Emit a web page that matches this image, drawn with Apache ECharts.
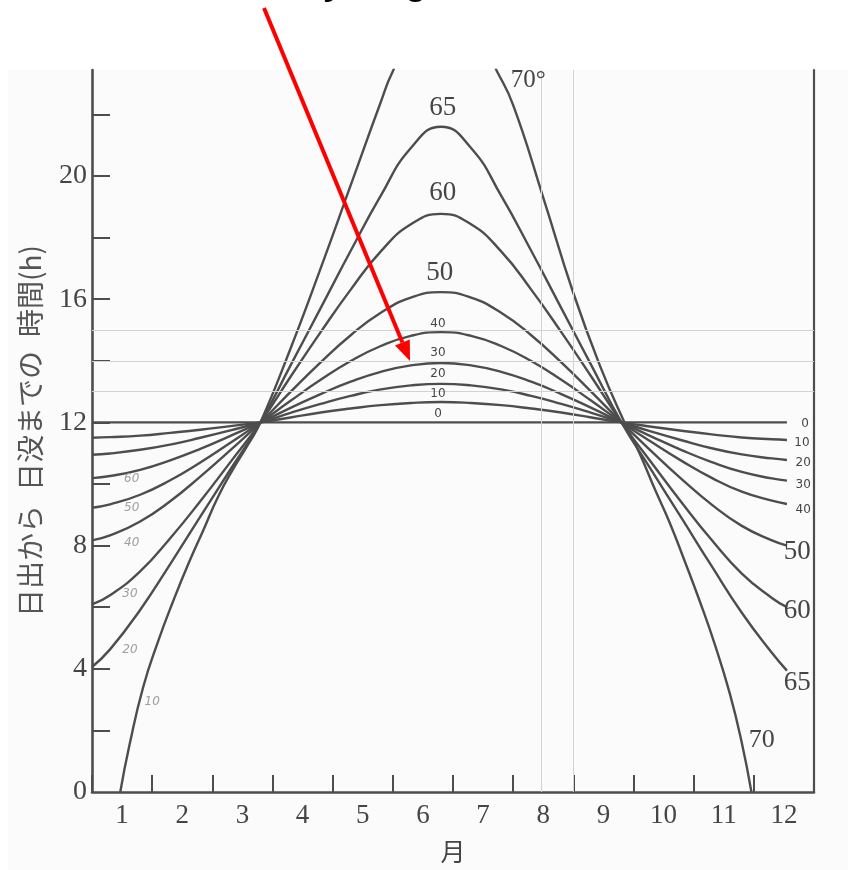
<!DOCTYPE html>
<html>
<head>
<meta charset="utf-8">
<style>
  html, body { margin: 0; padding: 0; background: #fff; }
  #chart { width: 848px; height: 870px; }
</style>
</head>
<body>
<div id="chart"></div>
<script src="https://cdn.jsdelivr.net/npm/echarts@6/dist/echarts.min.js"></script>
<script>
// --- data (month 0 = 1 Jan, 12 = 31 Dec) ---
const MONTH_LABELS = ['1', '2', '3', '4', '5', '6', '7', '8', '9', '10', '11', '12'];
const HOUR_TICKS = [2, 4, 6, 8, 10, 12, 14, 16, 18, 20, 22];
const HOUR_LABELS = [0, 4, 8, 12, 16, 20];

const MONTHS = [0, 0.3, 0.8, 1.3, 1.8, 2.3, 2.8, 3.3, 3.8, 4.3, 4.8, 5.3, 5.8,
  6.3, 6.8, 7.3, 7.8, 8.3, 8.8, 9.3, 9.8, 10.3, 10.8, 11.3, 11.55];

const LAT_0 = [12, 12, 12, 12, 12, 12, 12, 12, 12, 12, 12, 12, 12,
  12, 12, 12, 12, 12, 12, 12, 12, 12, 12, 12, 12];
const LAT_10 = [11.50, 11.52, 11.57, 11.66, 11.76, 11.88, 12.00, 12.16, 12.32, 12.45, 12.56, 12.63, 12.66,
  12.63, 12.56, 12.45, 12.32, 12.16, 12.00, 11.86, 11.73, 11.61, 11.51, 11.45, 11.43];
const LAT_20 = [10.95, 10.99, 11.11, 11.28, 11.50, 11.74, 12.00, 12.31, 12.60, 12.86, 13.07, 13.20, 13.25,
  13.20, 13.07, 12.86, 12.60, 12.31, 12.00, 11.70, 11.42, 11.16, 10.96, 10.83, 10.78];
const LAT_30 = [10.19, 10.26, 10.46, 10.77, 11.14, 11.56, 12.00, 12.47, 12.92, 13.32, 13.64, 13.85, 13.93,
  13.85, 13.64, 13.32, 12.92, 12.47, 12.00, 11.54, 11.10, 10.71, 10.39, 10.18, 10.11];
const LAT_40 = [9.23, 9.34, 9.65, 10.12, 10.70, 11.34, 12.00, 12.70, 13.38, 13.99, 14.48, 14.81, 14.93,
  14.81, 14.48, 13.99, 13.38, 12.70, 12.00, 11.36, 10.75, 10.20, 9.75, 9.46, 9.35];
const LAT_50 = [8.17, 8.33, 8.78, 9.44, 10.24, 11.10, 12.00, 12.99, 13.95, 14.83, 15.56, 16.05, 16.23,
  16.05, 15.56, 14.83, 13.95, 12.99, 12.00, 11.06, 10.16, 9.33, 8.64, 8.17, 8.00];
const LAT_60 = [6.09, 6.39, 7.16, 8.24, 9.44, 10.71, 12.00, 13.48, 14.93, 16.31, 17.55, 18.43, 18.77,
  18.43, 17.55, 16.31, 14.93, 13.48, 12.00, 10.69, 9.40, 8.18, 7.09, 6.30, 6.00];
const LAT_65 = [4.06, 4.63, 5.91, 7.40, 8.94, 10.47, 12.00, 13.85, 15.71, 17.57, 19.36, 20.91, 21.60,
  20.91, 19.36, 17.57, 15.71, 13.85, 12.00, 10.44, 8.89, 7.33, 5.82, 4.52, 3.94];

// 70° has polar night / polar day, so it keeps its own month list
const LAT70_MONTHS = [0.47, 0.62, 0.85, 1.1, 1.35, 1.6, 1.85, 2.1, 2.35, 2.6,
  2.8, 3.3, 3.8, 4.3, 4.8, 5.0, 5.2, 6.55, 6.73, 7.0, 7.5, 8.0, 8.45, 8.85,
  9.1, 9.35, 9.6, 9.85, 10.1, 10.35, 10.6, 10.8, 10.96];
const LAT70_HOURS = [0, 1.5, 3.4, 4.9, 6.2, 7.4, 8.5, 9.6, 10.5, 11.3,
  12.0, 14.4, 17.0, 19.7, 22.4, 23.4, 24, 24, 23.4, 22.3, 19.3, 16.2, 13.8, 12.0,
  11.0, 9.85, 8.75, 7.5, 6.2, 4.8, 3.2, 1.6, 0];

// --- layout / styling ---
const INK = '#4d4d4d';
const LABEL_INK = '#454545';
const SERIF = '"Liberation Serif", "DejaVu Serif", serif';
const SANS = '"DejaVu Sans", sans-serif';
const CJK = '"Noto Sans CJK JP", sans-serif';
const Y_MAX = 23.44;

// curve labels, placed in chart units [month, hours]
const CURVE_LABELS = [
  ['65', 5.83, 22.22, 27, SERIF], ['60', 5.83, 19.44, 27, SERIF], ['50', 5.78, 16.84, 27, SERIF],
  ['40', 5.75, 15.21, 12, SANS], ['30', 5.75, 14.27, 12, SANS], ['20', 5.75, 13.56, 12, SANS],
  ['10', 5.75, 12.94, 12, SANS], ['0', 5.75, 12.29, 12, SANS],
  ['70°', 7.25, 23.1, 25, SERIF],
  ['0', 11.85, 11.94, 12, SANS], ['10', 11.8, 11.32, 12, SANS], ['20', 11.82, 10.67, 12, SANS],
  ['30', 11.82, 9.96, 12, SANS], ['40', 11.82, 9.15, 12, SANS],
  ['50', 11.72, 7.78, 27, SERIF], ['60', 11.72, 5.89, 27, SERIF], ['65', 11.72, 3.55, 27, SERIF],
  ['70', 11.13, 1.67, 26, SERIF]
];
// faint pencil notes on the left
const PENCIL_LABELS = [
  ['60', 0.66, 10.18], ['50', 0.66, 9.24], ['40', 0.66, 8.1],
  ['30', 0.63, 6.44], ['20', 0.63, 4.6], ['10', 1.0, 2.91]
];

const chart = echarts.init(document.getElementById('chart'));

function curve(name, months, hours, extra) {
  return Object.assign({
    name: name,
    type: 'line',
    xAxisIndex: 1,
    yAxisIndex: 0,
    data: months.map((m, i) => [m, hours[i]]),
    showSymbol: false,
    symbol: 'none',
    smooth: 0.5,
    silent: true,
    z: 3,
    lineStyle: { color: INK, width: 2.4 }
  }, extra || {});
}

const markLabels = CURVE_LABELS.map(([text, m, h, size, font]) => ({
  name: text,
  coord: [m, h],
  label: { formatter: text, fontSize: size, fontFamily: font, color: LABEL_INK }
})).concat(PENCIL_LABELS.map(([text, m, h]) => ({
  name: text,
  coord: [m, h],
  label: { formatter: text, fontSize: 12, fontFamily: SANS, fontStyle: 'italic', color: '#a0a0a0' }
})));

const axisLine = { show: true, lineStyle: { color: INK, width: 2.6 } };
const tickStyle = { color: INK, width: 2 };

const option = {
  animation: false,
  backgroundColor: '#ffffff',
  grid: { left: 92, right: 34, top: 70, bottom: 78 },
  xAxis: [
    {
      type: 'category',
      data: MONTH_LABELS,
      boundaryGap: true,
      position: 'bottom',
      axisLine: axisLine,
      axisTick: { show: true, inside: true, length: 17, lineStyle: tickStyle },
      axisLabel: { interval: 0, color: LABEL_INK, fontSize: 27, fontFamily: SERIF, margin: 10 },
      splitLine: { show: false },
      name: '月',
      nameLocation: 'middle',
      nameGap: 47,
      nameTextStyle: { fontSize: 25, color: LABEL_INK, fontFamily: CJK }
    },
    { type: 'value', min: 0, max: 12, show: false }
  ],
  yAxis: [
    {
      type: 'value',
      min: 0,
      max: Y_MAX,
      position: 'left',
      axisLine: axisLine,
      axisTick: { show: true, inside: true, length: 18, customValues: HOUR_TICKS, lineStyle: tickStyle },
      axisLabel: { customValues: HOUR_LABELS, color: LABEL_INK, fontSize: 28, fontFamily: SERIF, margin: 5 },
      splitLine: { show: false },
      name: '日出から\u2002日没までの\u2002時間(h)',
      nameLocation: 'middle',
      nameGap: 48,
      nameTextStyle: { fontSize: 28, color: '#555', fontFamily: CJK }
    },
    {
      type: 'value',
      min: 0,
      max: Y_MAX,
      position: 'right',
      axisLine: { show: true, lineStyle: { color: INK, width: 2.2 } },
      axisTick: { show: false },
      axisLabel: { show: false },
      splitLine: { show: false }
    }
  ],
  series: [
    curve('0°', MONTHS, LAT_0, {
      z: 2,
      markLine: {
        silent: true,
        symbol: ['none', 'none'],
        label: { show: false },
        lineStyle: { color: '#d2d2d2', width: 1, type: 'solid' },
        data: [{ yAxis: 13 }, { yAxis: 14 }, { yAxis: 15 }, { xAxis: 7.46 }, { xAxis: 8.0 }]
      },
      markPoint: {
        silent: true,
        symbol: 'circle',
        symbolSize: 0,
        label: { show: true, position: 'inside' },
        data: markLabels
      }
    }),
    curve('10°', MONTHS, LAT_10),
    curve('20°', MONTHS, LAT_20),
    curve('30°', MONTHS, LAT_30),
    curve('40°', MONTHS, LAT_40),
    curve('50°', MONTHS, LAT_50),
    curve('60°', MONTHS, LAT_60),
    curve('65°', MONTHS, LAT_65),
    curve('70°', LAT70_MONTHS, LAT70_HOURS)
  ],
  graphic: {
    elements: [
      {
        type: 'rect', z: -100, silent: true,
        shape: { x: 8, y: 70, width: 840, height: 800 },
        style: { fill: '#fbfbfb' }
      },
      {
        type: 'text', z: 50, silent: true,
        x: 277, y: -16,
        style: {
          text: 'Day length', fill: '#000', font: 'bold 36px "Liberation Sans", sans-serif',
          textAlign: 'left', textVerticalAlign: 'middle', verticalAlign: 'middle'
        }
      },
      {
        type: 'line', z: 100, silent: true,
        shape: { x1: 264, y1: 8, x2: 402.4, y2: 342.5 },
        style: { stroke: '#ff0000', lineWidth: 4 }
      },
      {
        type: 'polygon', z: 100, silent: true,
        shape: { points: [[410, 361], [395, 345.6], [409.8, 339.4]] },
        style: { fill: '#ff0000' }
      }
    ]
  }
};

chart.setOption(option);
</script>
</body>
</html>
